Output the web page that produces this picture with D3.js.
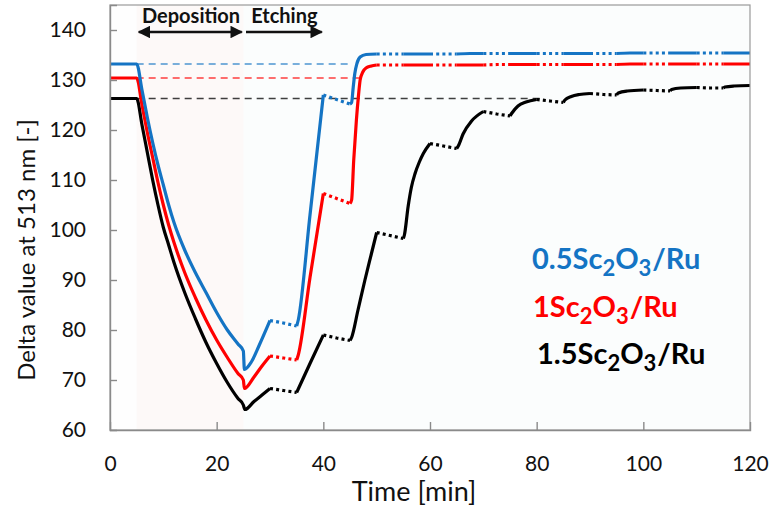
<!DOCTYPE html>
<html>
<head>
<meta charset="utf-8">
<script src="https://cdn.jsdelivr.net/npm/d3@7"></script>
<style>
  body { margin: 0; background: #fff; }
  text { font-family: Lato, "Open Sans", sans-serif; }
</style>
</head>
<body>
<svg id="chart" width="773" height="511"></svg>
<script>
// ===== data =====
// Gaps (no measurement) are drawn dotted
var gapWindows = [[30,35],[40,45],[50,55],[60,65],[70,75],[80,85],[90,95],[100,105],[110,115]];

var plateauT = [52.5,55,57.5,60,62.5,65,67.5,70,72.5,75,77.5,80,82.5,85,87.5,90,92.5,95,97.5,100,102.5,105,107.5,110,112.5,115,117.5,120];

var blueT = [0,5,6,7,8,9,10,11,12,14,16,18,20,22,24,25,25.2,26.5,28,30,32.5,35,35.3,37.5,40,42.5,45,45.3,45.6,45.9,46.3,46.9,48,50].concat(plateauT);
var blueV = [133.2,133.2,128,122.5,117.5,113,109,105,101.5,96,91.5,87.5,83.5,80,77.2,75.8,72.1,73.6,77,81.9,81.4,80.8,82,103,127,126.1,125.2,125.5,128.5,131.3,133.3,134.6,135.1,135.2,
  135.2,135.2,135.2,135.2,135.2,135.2,135.3,135.3,135.3,135.3,135.3,135.3,135.3,135.3,135.3,135.3,135.3,135.3,135.4,135.4,135.4,135.4,135.4,135.4,135.4,135.4,135.4,135.4];

var redT = [0,5,6,7,8,9,10,11,12,14,16,18,20,22,24,25,25.2,27,28.5,30,32.5,35,35.3,37.5,40,42.5,45,45.3,45.7,46.2,46.6,46.9,47.4,48,49,50].concat(plateauT);
var redV = [130.4,130.4,125,119.5,114.5,109.5,105,101,97.5,91.5,86.5,82,78,74.5,71.3,70,68.3,70.6,72.8,74.8,74.4,74,75,90.5,107.3,106.3,105.3,106,114,122,127,130,131.6,132.4,132.8,133,
  133,133,133,133,133,133,133,133,133.1,133.1,133.1,133.1,133.1,133.1,133.1,133.1,133.1,133.1,133.2,133.2,133.2,133.2,133.2,133.2,133.2,133.2,133.2,133.2];

var blackT = [0,5,6,7,8,9,10,11,12,14,16,18,20,22,24,25,25.3,27,28.5,30,32.5,35,35.3,37.5,40,42.5,45,45.3,46.5,47.8,49,50,52.5,55,55.2,55.9,56.5,57.2,58,58.75,60,62.5,65,65.3,66.2,67.8,70,72.5,75,75.3,76.5,78,80,82.5,85,85.3,86.5,88,90,92.5,95,95.3,97,100,102.5,105,105.3,107,110,112.5,115,115.3,117,120];
var blackV = [126.3,126.3,121,115.5,110,105,100.5,97,93.5,87.5,82.3,77.5,73.3,69.5,66.3,65,64.1,65.7,67,68.3,67.9,67.5,68.2,73.3,79,78.4,77.9,78.5,84,90,95.2,99.5,98.9,98.3,99,104.7,108.5,111.3,113.6,115.3,117.3,116.8,116.3,116.8,119.2,121.8,123.7,123.2,122.8,123.3,124.8,125.6,126.1,125.8,125.5,126,126.7,127.1,127.3,127.1,127,127.4,127.8,128,127.9,127.8,128.1,128.4,128.5,128.4,128.4,128.6,128.8,128.9];

// initial levels (dashed guides) and where each guide stops
var refLevels = [133.2, 130.4, 126.3];
var refEnds = [45.3, 46.9, 81];

var seriesNames = ["0.5", "1", "1.5"];
var seriesColors = ["#1474c4", "#ff0000", "#000000"];

var xTicks = [0,20,40,60,80,100,120];
var yTicks = [60,70,80,90,100,110,120,130,140];

// ===== chart =====
var svg = d3.select("#chart");
var plotLeft = 110, plotRight = 750, plotTop = 5, plotBottom = 430;

var x = d3.scaleLinear().domain([0, 120]).range([plotLeft, plotRight]);
var y = d3.scaleLinear().domain([60, 145]).range([plotBottom, plotTop]);

// backgrounds
svg.append("rect").attr("x", x(0)).attr("y", plotTop)
  .attr("width", x(120) - x(0)).attr("height", plotBottom - plotTop).attr("fill", "#fefefe");
svg.append("rect").attr("x", x(25)).attr("y", plotTop)
  .attr("width", x(120) - x(25)).attr("height", plotBottom - plotTop).attr("fill", "#fbfdfd");
svg.append("rect").attr("x", x(5)).attr("y", plotTop)
  .attr("width", x(25) - x(5)).attr("height", plotBottom - plotTop).attr("fill", "#fdf9f8");

// dashed guides
refLevels.forEach(function(v, i) {
  svg.append("line")
    .attr("x1", x(5)).attr("x2", x(refEnds[i]))
    .attr("y1", y(v)).attr("y2", y(v))
    .attr("stroke", seriesColors[i]).attr("stroke-width", 1.5)
    .attr("stroke-dasharray", "7,5").attr("opacity", 0.75);
});

function inGap(t, strict) {
  for (var i = 0; i < gapWindows.length; i++) {
    var g = gapWindows[i];
    if (strict ? (t > g[0] && t < g[1]) : (t >= g[0] && t <= g[1])) return true;
  }
  return false;
}

var series = [[blueT, blueV], [redT, redV], [blackT, blackV]];

// draw black first so blue sits on top
[2, 1, 0].forEach(function(i) {
  var pts = series[i][0].map(function(t, k) { return [t, series[i][1][k]]; });
  var solid = d3.line()
    .defined(function(d) { return !inGap(d[0], true); })
    .x(function(d) { return x(d[0]); })
    .y(function(d) { return y(d[1]); })
    .curve(d3.curveMonotoneX);
  var dotted = d3.line()
    .defined(function(d) { return inGap(d[0], false); })
    .x(function(d) { return x(d[0]); })
    .y(function(d) { return y(d[1]); });

  svg.append("path").datum(pts).attr("d", solid)
    .attr("fill", "none").attr("stroke", seriesColors[i]).attr("stroke-width", 3.2)
    .attr("stroke-linejoin", "round");
  svg.append("path").datum(pts).attr("d", dotted)
    .attr("fill", "none").attr("stroke", seriesColors[i]).attr("stroke-width", 3.2)
    .attr("stroke-dasharray", "3,3.2");
});

// frame
svg.append("rect").attr("x", plotLeft).attr("y", plotTop)
  .attr("width", plotRight - plotLeft).attr("height", plotBottom - plotTop)
  .attr("fill", "none").attr("stroke", "#9a9a9a").attr("stroke-width", 1.2);

// axes (ticks drawn inward)
var xAxis = svg.append("g").attr("transform", "translate(0," + plotBottom + ")")
  .call(d3.axisBottom(x).tickValues(xTicks).tickSize(-8).tickPadding(26).tickFormat(d3.format("d")));
var yAxis = svg.append("g").attr("transform", "translate(" + plotLeft + ",0)")
  .call(d3.axisLeft(y).tickValues(yTicks).tickSize(-7).tickPadding(24).tickFormat(d3.format("d")));

[xAxis, yAxis].forEach(function(a) {
  a.select(".domain").attr("stroke", "#8a8a8a").attr("stroke-width", 1.4);
  a.selectAll(".tick line").attr("stroke", "#8a8a8a").attr("stroke-width", 1.4);
  a.selectAll(".tick text").attr("font-size", 21).attr("fill", "#111")
    .style("font-family", "Lato, sans-serif");
});
xAxis.selectAll(".tick").filter(function(d) { return d === 0 || d === 120; })
  .select("line").remove();
yAxis.selectAll(".tick").filter(function(d) { return d === 60; })
  .select("line").remove();

// axis titles
svg.append("text").attr("x", x(57)).attr("y", 501)
  .attr("text-anchor", "middle").attr("font-size", 27).attr("fill", "#111")
  .text("Time [min]");
svg.append("text").attr("transform", "translate(35," + y(96) + ") rotate(-90)")
  .attr("text-anchor", "middle").attr("font-size", 24).attr("fill", "#111")
  .text("Delta value at 513 nm [-]");

// deposition / etching arrows
var defs = svg.append("defs");
defs.append("marker").attr("id", "head")
  .attr("viewBox", "0 0 10 10").attr("refX", 9).attr("refY", 5)
  .attr("markerWidth", 5).attr("markerHeight", 5)
  .attr("orient", "auto-start-reverse")
  .append("path").attr("d", "M0,0 L10,5 L0,10 z").attr("fill", "#111");

var arrowY = y(139.6);
svg.append("line").attr("x1", x(5.4)).attr("x2", x(24.7))
  .attr("y1", arrowY).attr("y2", arrowY)
  .attr("stroke", "#111").attr("stroke-width", 2.5)
  .attr("marker-start", "url(#head)").attr("marker-end", "url(#head)");
svg.append("line").attr("x1", x(25.5)).attr("x2", x(39.7))
  .attr("y1", arrowY).attr("y2", arrowY)
  .attr("stroke", "#111").attr("stroke-width", 2.5)
  .attr("marker-end", "url(#head)");

svg.append("text").attr("x", x(15.2)).attr("y", 23).attr("text-anchor", "middle")
  .attr("font-size", 20).attr("font-weight", "bold").attr("fill", "#111").text("Deposition");
svg.append("text").attr("x", x(32.7)).attr("y", 23).attr("text-anchor", "middle")
  .attr("font-size", 20).attr("font-weight", "bold").attr("fill", "#111").text("Etching");

// legend labels
var legendX = [532, 533, 537];
var legendY = [269, 317, 364];
seriesNames.forEach(function(n, i) {
  var t = svg.append("text").attr("x", legendX[i]).attr("y", legendY[i])
    .attr("font-size", 29).attr("font-weight", "bold").attr("fill", seriesColors[i]);
  t.append("tspan").text(n + "Sc");
  t.append("tspan").attr("font-size", 22).attr("dy", 7).text("2");
  t.append("tspan").attr("dy", -7).text("O");
  t.append("tspan").attr("font-size", 22).attr("dy", 7).text("3");
  t.append("tspan").attr("dy", -7).attr("dx", 1).text("/Ru");
});
</script>
</body>
</html>
